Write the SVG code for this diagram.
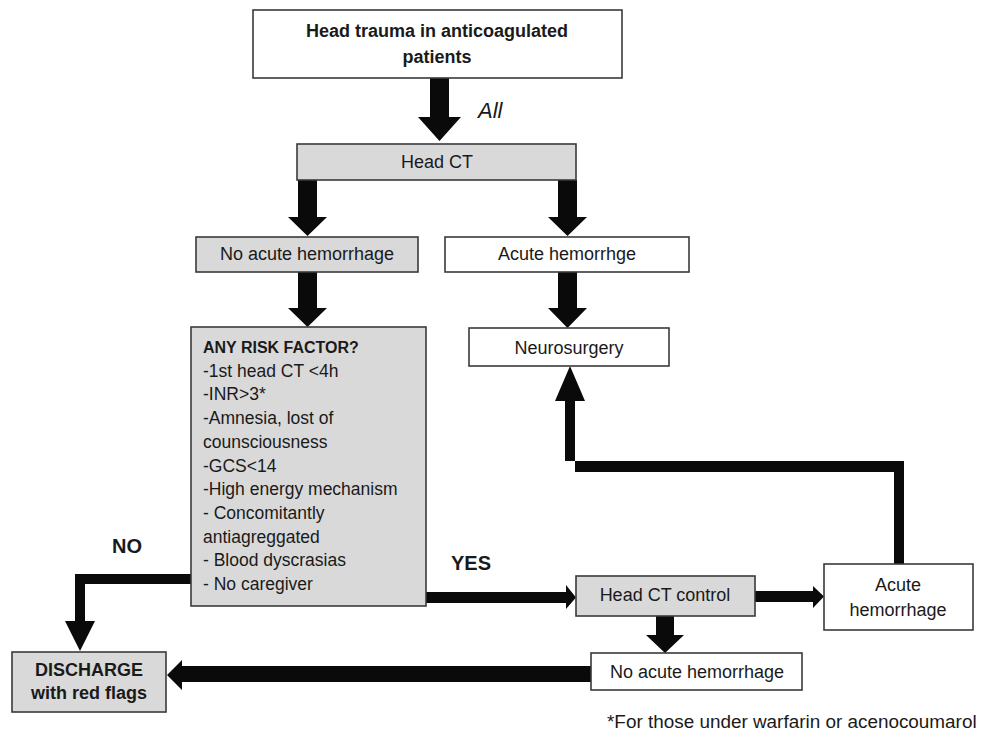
<svg xmlns="http://www.w3.org/2000/svg" width="982" height="734" viewBox="0 0 982 734">
<style>
.box{stroke:#3a3a3a;stroke-width:1.6}
.g{fill:#d9d9d9}
.w{fill:#ffffff}
text{font-family:"Liberation Sans",Arial,sans-serif;fill:#1a1a1a}
.t{font-size:18px;text-anchor:middle}
.b{font-weight:bold}
.r{font-size:17.5px}
.arr{fill:#0a0a0a}
</style>
<rect width="982" height="734" fill="#ffffff"/>
<g id="connectors" class="arr">
<polygon points="430,78 449,78 449,117 461,117 439.5,141 418,117 430,117"/>
<polygon points="298,180 317,180 317,217 327,217 307.5,236 288,217 298,217"/>
<polygon points="558,180 577,180 577,217 587,217 567.5,236 548,217 558,217"/>
<polygon points="298,272 317,272 317,308 327,308 307.5,327 288,308 298,308"/>
<polygon points="558,272 577,272 577,308 587,308 567.5,328 548,308 558,308"/>
<polygon points="894,564 894,472 575,472 575,401 585,401 570,366 555,401 565,401 565,461 904,461 904,564"/>
<polygon points="426,592 566,592 566,585 576,597.5 566,609 566,603 426,603"/>
<polygon points="755,591 813,591 813,586 824,596.5 813,608 813,602 755,602"/>
<polygon points="656,616 674,616 674,635 684,635 665,653 646,635 656,635"/>
<polygon points="591,666 591,682 182,682 182,690 167,675 182,660 182,666"/>
<polygon points="191,574 191,584 85,584 85,621 95,621 80,651 65,621 75,621 75,574"/>
</g>
<g id="start">
<rect class="box w" x="253" y="10" width="369" height="68"/>
<text class="t b" x="437" y="37" font-size="20">Head trauma in anticoagulated</text>
<text class="t b" x="437" y="63" font-size="20">patients</text>
</g>
<text x="478" y="118" font-size="22" font-style="italic">All</text>
<g id="headct">
<rect class="box g" x="297" y="144" width="279" height="36"/>
<text class="t" x="437" y="168" font-size="16.5">Head CT</text>
</g>
<g id="noacute1">
<rect class="box g" x="196" y="237" width="222" height="35"/>
<text class="t" x="307" y="260">No acute hemorrhage</text>
</g>
<g id="acute1">
<rect class="box w" x="445" y="237" width="244" height="35"/>
<text class="t" x="567" y="260">Acute hemorrhge</text>
</g>
<g id="neurosurgery">
<rect class="box w" x="469" y="328" width="200" height="38"/>
<text class="t" x="569" y="354">Neurosurgery</text>
</g>
<g id="risk">
<rect class="box g" x="191" y="327" width="235" height="279"/>
<text x="203" y="353" font-size="16" font-weight="bold">ANY RISK FACTOR?</text>
<text class="r" x="203" y="377">-1st head CT &lt;4h</text>
<text class="r" x="203" y="400">-INR&gt;3*</text>
<text class="r" x="203" y="424">-Amnesia, lost of</text>
<text class="r" x="203" y="448">counsciousness</text>
<text class="r" x="203" y="472">-GCS&lt;14</text>
<text class="r" x="203" y="495">-High energy mechanism</text>
<text class="r" x="203" y="519">- Concomitantly</text>
<text class="r" x="203" y="543">antiagreggated</text>
<text class="r" x="203" y="566">- Blood dyscrasias</text>
<text class="r" x="203" y="590">- No caregiver</text>
</g>
<text x="112" y="553" font-size="20" font-weight="bold">NO</text>
<text x="451" y="570" font-size="20" font-weight="bold">YES</text>
<g id="ctcontrol">
<rect class="box g" x="576" y="576" width="179" height="40"/>
<text class="t" x="665" y="601">Head CT control</text>
</g>
<g id="acute2">
<rect class="box w" x="824" y="564" width="149" height="66"/>
<text class="t" x="898" y="591">Acute</text>
<text class="t" x="898" y="616">hemorrhage</text>
</g>
<g id="noacute2">
<rect class="box w" x="591" y="653" width="211" height="37"/>
<text class="t" x="697" y="678">No acute hemorrhage</text>
</g>
<g id="discharge">
<rect class="box g" x="12" y="652" width="154" height="60"/>
<text class="t b" x="89" y="676" font-size="16.5">DISCHARGE</text>
<text class="t b" x="89" y="699" font-size="17">with red flags</text>
</g>
<text x="607" y="728" font-size="18.9">*For those under warfarin or acenocoumarol</text>
</svg>
